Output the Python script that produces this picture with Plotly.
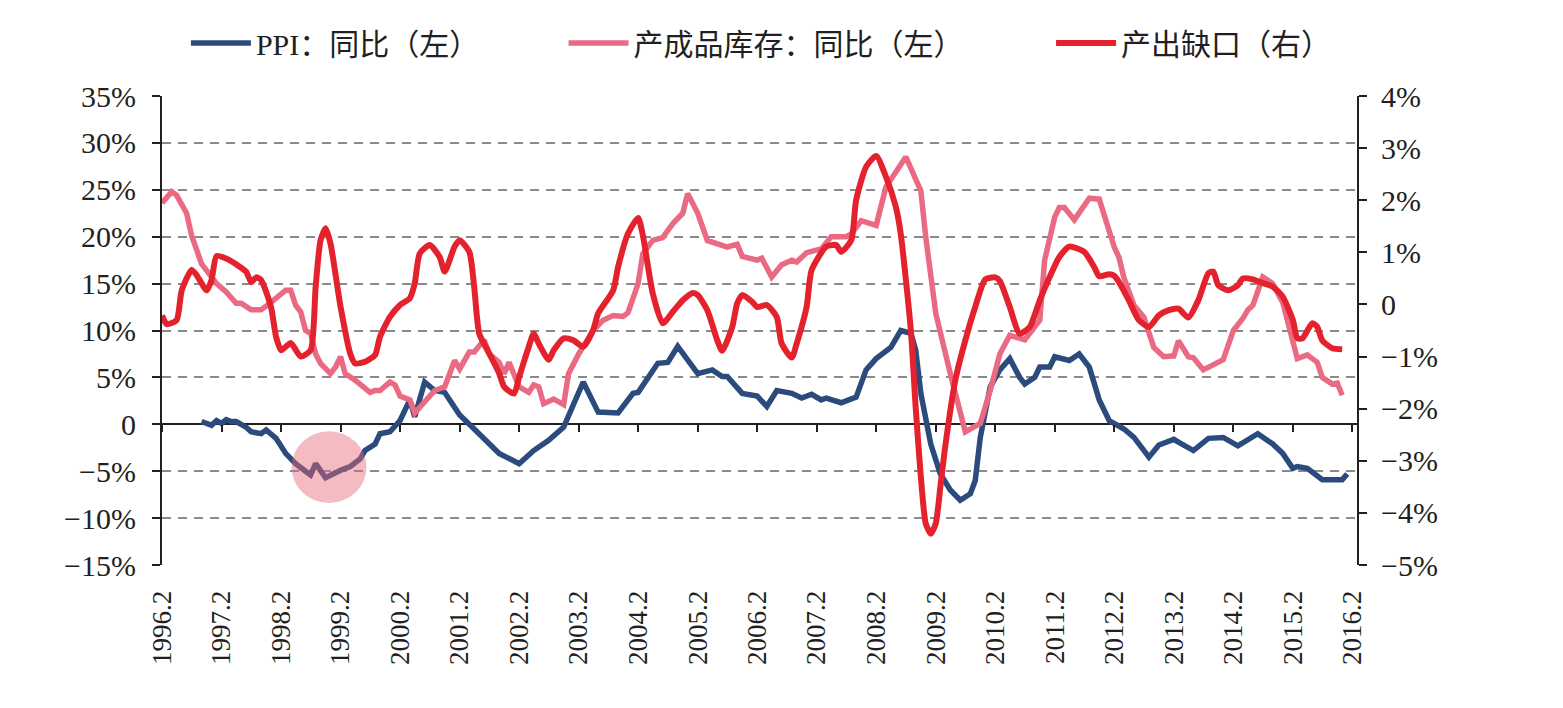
import plotly.graph_objects as go

# ---------------- data ----------------
PPI_DATES = ["1996-10","1996-12","1997-01","1997-02","1997-03","1997-04","1997-05","1997-07","1997-08","1997-10",
             "1997-11","1998-01","1998-03","1998-05","1998-07","1998-08","1998-09","1998-11","1999-02","1999-04",
             "1999-06","1999-07","1999-09","1999-10","1999-12","2000-02","2000-04","2000-05","2000-07","2000-09",
             "2000-11","2001-02","2001-05","2001-10","2002-02","2002-05","2002-08","2002-11","2003-03","2003-06",
             "2003-10","2004-01","2004-02","2004-04","2004-06","2004-08","2004-09","2004-10","2005-02","2005-05",
             "2005-07","2005-08","2005-11","2006-02","2006-04","2006-06","2006-09","2006-11","2007-01","2007-03",
             "2007-04","2007-07","2007-10","2007-12","2008-02","2008-04","2008-05","2008-07","2008-09","2008-10",
             "2008-11","2009-01","2009-03","2009-05","2009-07","2009-09","2009-10","2009-11","2010-01","2010-03",
             "2010-05","2010-07","2010-08","2010-10","2010-11","2011-01","2011-02","2011-05","2011-07","2011-09",
             "2011-11","2012-01","2012-04","2012-06","2012-09","2012-11","2013-02","2013-03","2013-06","2013-09",
             "2013-12","2014-03","2014-07","2014-10","2014-12","2015-02","2015-03","2015-05","2015-08","2015-12",
             "2016-01"]
PPI_VALUES = [0.3,-0.1,0.4,0.1,0.5,0.3,0.3,-0.3,-0.8,-1.0,
              -0.6,-1.5,-3.1,-4.2,-5.0,-5.4,-4.2,-5.7,-4.9,-4.5,
              -3.7,-2.8,-2.1,-1.0,-0.8,0.4,2.6,0.8,4.5,3.6,
              3.4,1.0,-0.5,-3.1,-4.2,-2.8,-1.7,-0.3,4.5,1.3,
              1.2,3.3,3.4,5.0,6.5,6.6,7.4,8.3,5.4,5.8,
              5.1,5.1,3.3,3.0,1.9,3.6,3.3,2.8,3.2,2.6,
              2.8,2.3,2.9,5.8,7.0,7.9,8.2,10.0,9.7,7.9,
              3.3,-2.1,-5.3,-7.0,-8.1,-7.4,-6.0,-1.4,4.0,5.8,
              7.0,5.0,4.3,5.0,6.1,6.1,7.2,6.8,7.5,6.1,
              2.6,0.4,-0.5,-1.4,-3.5,-2.2,-1.6,-1.9,-2.8,-1.5,
              -1.4,-2.3,-1.0,-2.1,-3.1,-4.7,-4.5,-4.7,-5.9,-5.9,
              -5.3]

INV_DATES = ["1996-02","1996-04","1996-05","1996-07","1996-08","1996-10","1997-01","1997-03","1997-05","1997-06",
             "1997-08","1997-10","1997-12","1998-02","1998-03","1998-04","1998-05","1998-06","1998-07","1998-08",
             "1998-09","1998-10","1998-12","1999-01","1999-02","1999-03","1999-05","1999-08","1999-09","1999-10",
             "1999-12","2000-01","2000-02","2000-04","2000-05","2000-07","2000-09","2000-11","2001-01","2001-02",
             "2001-04","2001-05","2001-07","2001-08","2001-10","2001-11","2001-12","2002-02","2002-04","2002-05",
             "2002-06","2002-07","2002-09","2002-11","2002-12","2003-02","2003-05","2003-07","2003-09","2003-11",
             "2003-12","2004-02","2004-03","2004-05","2004-07","2004-09","2004-11","2004-12","2005-02","2005-04",
             "2005-06","2005-08","2005-10","2005-11","2006-02","2006-03","2006-05","2006-07","2006-09","2006-10",
             "2006-12","2007-02","2007-03","2007-05","2007-08","2007-09","2007-11","2008-02","2008-04","2008-08",
             "2008-11","2008-12","2009-02","2009-05","2009-07","2009-08","2009-11","2010-01","2010-03","2010-05",
             "2010-08","2010-11","2010-12","2011-02","2011-03","2011-04","2011-06","2011-09","2011-11","2012-01",
             "2012-02","2012-03","2012-04","2012-06","2012-08","2012-10","2012-12","2013-02","2013-03","2013-05",
             "2013-06","2013-08","2013-10","2013-12","2014-02","2014-04","2014-05","2014-06","2014-08","2014-10",
             "2014-12","2015-02","2015-03","2015-05","2015-07","2015-08","2015-10","2015-11","2015-12"]
INV_VALUES = [23.6,24.8,24.4,22.5,20.1,17.1,15.0,14.1,12.9,12.9,
              12.2,12.2,13.0,13.9,14.3,14.3,12.7,12.0,10.0,9.7,
              7.5,6.5,5.4,6.1,7.2,5.4,4.7,3.4,3.6,3.6,
              4.5,4.2,3.0,2.6,1.2,2.4,3.6,4.0,6.8,5.9,
              7.7,7.7,9.0,7.5,6.6,5.4,6.6,4.0,3.4,4.2,
              4.0,2.2,2.7,2.1,5.4,7.5,10.0,11.1,11.6,11.5,
              11.9,15.0,18.2,19.6,19.9,21.4,22.5,24.6,22.5,19.6,
              19.3,18.9,19.2,17.9,17.5,17.7,15.7,17.0,17.5,17.3,
              18.3,18.5,18.7,20.0,20.0,20.3,21.7,21.2,25.3,28.5,
              24.9,20.0,11.8,5.4,1.1,-0.8,0.1,3.6,7.5,9.5,
              9.0,11.1,17.5,22.1,23.1,23.1,21.8,24.1,24.0,20.3,
              18.9,17.8,15.6,12.7,11.4,8.2,7.2,7.3,8.9,7.2,
              7.1,5.8,6.3,6.9,10.0,11.3,12.2,12.7,15.7,15.0,
              13.0,8.6,7.0,7.4,6.6,5.0,4.3,4.4,3.1]

GAP_DATES = ["1996-02","1996-03","1996-05","1996-06","1996-08","1996-09","1996-11","1996-12","1997-01","1997-03",
             "1997-05","1997-07","1997-08","1997-09","1997-10","1997-12","1998-01","1998-02","1998-04","1998-06",
             "1998-08","1998-09","1998-10","1998-11","1998-12","1999-02","1999-04","1999-05","1999-07","1999-09",
             "1999-10","1999-12","2000-02","2000-04","2000-05","2000-06","2000-08","2000-10","2000-11","2001-01",
             "2001-02","2001-04","2001-05","2001-06","2001-08","2001-10","2001-11","2002-01","2002-02","2002-04",
             "2002-05","2002-06","2002-08","2002-09","2002-11","2003-01","2003-03","2003-05","2003-06","2003-09",
             "2003-10","2003-12","2004-02","2004-03","2004-05","2004-07","2004-09","2004-11","2005-01","2005-02",
             "2005-04","2005-06","2005-07","2005-09","2005-10","2005-11","2006-01","2006-02","2006-04","2006-06",
             "2006-07","2006-09","2006-10","2006-12","2007-01","2007-04","2007-06","2007-07","2007-09","2007-10",
             "2007-12","2008-02","2008-04","2008-06","2008-07","2008-09","2008-10","2008-11","2008-12","2009-01",
             "2009-02","2009-03","2009-04","2009-06","2009-08","2009-10","2009-12","2010-02","2010-03","2010-05",
             "2010-07","2010-09","2010-11","2011-01","2011-03","2011-05","2011-08","2011-10","2011-11","2012-01",
             "2012-02","2012-03","2012-05","2012-07","2012-09","2012-11","2013-01","2013-03","2013-05","2013-07",
             "2013-09","2013-10","2013-11","2014-01","2014-03","2014-04","2014-06","2014-08","2014-10","2014-12",
             "2015-02","2015-03","2015-04","2015-06","2015-07","2015-08","2015-10","2015-12"]
GAP_VALUES = [-0.21,-0.38,-0.30,0.27,0.66,0.56,0.27,0.47,0.93,0.88,
              0.77,0.63,0.43,0.52,0.47,-0.05,-0.62,-0.88,-0.74,-1.00,
              -0.88,0.34,1.23,1.46,1.17,-0.05,-0.94,-1.13,-1.10,-0.97,
              -0.62,-0.24,-0.01,0.12,0.40,0.98,1.14,0.91,0.63,1.11,
              1.23,1.01,0.34,-0.56,-0.94,-1.32,-1.58,-1.71,-1.39,-0.81,
              -0.56,-0.75,-1.06,-0.88,-0.65,-0.69,-0.81,-0.49,-0.17,0.27,
              0.72,1.36,1.66,1.33,0.21,-0.36,-0.14,0.08,0.22,0.18,
              -0.11,-0.69,-0.89,-0.43,0.02,0.18,0.05,-0.05,-0.01,-0.24,
              -0.75,-1.02,-0.75,-0.05,0.66,1.11,1.14,1.01,1.23,2.00,
              2.64,2.85,2.45,1.87,1.35,-0.50,-2.00,-3.30,-4.20,-4.40,
              -4.20,-3.50,-2.70,-1.45,-0.69,-0.05,0.48,0.52,0.45,-0.05,
              -0.56,-0.43,0.08,0.53,0.91,1.11,1.01,0.72,0.54,0.58,
              0.55,0.43,0.08,-0.30,-0.43,-0.21,-0.11,-0.08,-0.25,0.08,
              0.60,0.63,0.37,0.27,0.37,0.50,0.48,0.41,0.34,0.15,
              -0.30,-0.65,-0.65,-0.36,-0.43,-0.69,-0.84,-0.86]

SERIES_NAMES = ["PPI：同比（左）", "产成品库存：同比（左）", "产出缺口（右）"]
X_TICK_YEARS = list(range(1996, 2017))
X_TICK_LABELS = [f"{y}.2" for y in X_TICK_YEARS]
LEFT_TICKS = [-15, -10, -5, 0, 5, 10, 15, 20, 25, 30, 35]
LEFT_LABELS = ["−15%", "−10%", "−5%", "0", "5%", "10%", "15%", "20%", "25%", "30%", "35%"]
RIGHT_TICKS = [-5, -4, -3, -2, -1, 0, 1, 2, 3, 4]
RIGHT_LABELS = ["−5%", "−4%", "−3%", "−2%", "−1%", "0", "1%", "2%", "3%", "4%"]

# highlight circle (deflation trough)
HL_X = ["1998-04-06", "1999-07-10"]
HL_Y = [-8.4, -0.75]

# ---------------- style ----------------
BLUE = "#2c4b7d"
PINK = "#ea6a84"
RED = "#e4222d"
TXT = "#231f20"
SERIF = "Liberation Serif, Noto Sans CJK SC, serif"
LEG_FONT = "Liberation Serif, Noto Sans CJK SC, serif"

tickvals = [f"{y}-02-01" for y in X_TICK_YEARS]

fig = go.Figure()
fig.add_trace(go.Scatter(x=PPI_DATES, y=PPI_VALUES, name=SERIES_NAMES[0], mode="lines",
                         line=dict(color=BLUE, width=5.5), yaxis="y", legend="legend"))
fig.add_trace(go.Scatter(x=INV_DATES, y=INV_VALUES, name=SERIES_NAMES[1], mode="lines",
                         line=dict(color=PINK, width=5.5), yaxis="y", legend="legend2"))
fig.add_trace(go.Scatter(x=GAP_DATES, y=GAP_VALUES, name=SERIES_NAMES[2], mode="lines",
                         line=dict(color=RED, width=6, shape="spline", smoothing=0.6),
                         yaxis="y2", legend="legend3"))
# empty trace to host the zero-crossing x axis with tick marks
fig.add_trace(go.Scatter(x=[], y=[], xaxis="x2", yaxis="y", showlegend=False, hoverinfo="skip"))

xrange = ["1996-02-01", "2016-03-01"]

leg_common = dict(orientation="h", yanchor="middle", y=1.113, xanchor="left",
                  font=dict(family=LEG_FONT, size=30, color=TXT), bgcolor="rgba(0,0,0,0)",
                  itemwidth=60)

fig.update_layout(
    width=1563, height=708,
    margin=dict(l=162, r=206, t=96, b=143),
    paper_bgcolor="white", plot_bgcolor="white",
    showlegend=True,
    legend=dict(x=0.02, **leg_common),
    legend2=dict(x=0.336, **leg_common),
    legend3=dict(x=0.744, **leg_common),
    xaxis=dict(type="date", range=xrange, tickmode="array", tickvals=tickvals, ticktext=X_TICK_LABELS,
               tickangle=-90, ticks="outside", ticklen=14, tickcolor="rgba(0,0,0,0)",
               showline=False, showgrid=False, zeroline=False,
               tickfont=dict(family=SERIF, size=27, color=TXT)),
    xaxis2=dict(type="date", range=xrange, overlaying="x", anchor="free", position=0.3,
                tickmode="array", tickvals=tickvals, showticklabels=False,
                ticks="outside", ticklen=7, tickwidth=2, tickcolor="#231f20",
                showline=False, showgrid=False, zeroline=False),
    yaxis=dict(range=[-15, 35], tickmode="array", tickvals=LEFT_TICKS, ticktext=LEFT_LABELS,
               ticks="outside", ticklen=8, tickwidth=2, tickcolor="#231f20", ticklabelstandoff=10,
               showline=True, linecolor="#231f20", linewidth=2,
               showgrid=True, gridcolor="#8a8a8a", gridwidth=1.5, griddash="9px,7px",
               zeroline=True, zerolinecolor="#231f20", zerolinewidth=2,
               tickfont=dict(family=SERIF, size=30, color=TXT)),
    yaxis2=dict(range=[-5, 4], overlaying="y", side="right", tickmode="array",
                tickvals=RIGHT_TICKS, ticktext=RIGHT_LABELS,
                ticks="outside", ticklen=8, tickwidth=2, tickcolor="#231f20", ticklabelstandoff=8,
                showline=True, linecolor="#231f20", linewidth=2,
                showgrid=False, zeroline=False,
                tickfont=dict(family=SERIF, size=30, color=TXT)),
    shapes=[dict(type="circle", xref="x", yref="y", x0=HL_X[0], x1=HL_X[1], y0=HL_Y[0], y1=HL_Y[1],
                 fillcolor="rgba(232,104,120,0.45)", line=dict(width=0), layer="above")],
)

fig.write_html("out.html")
